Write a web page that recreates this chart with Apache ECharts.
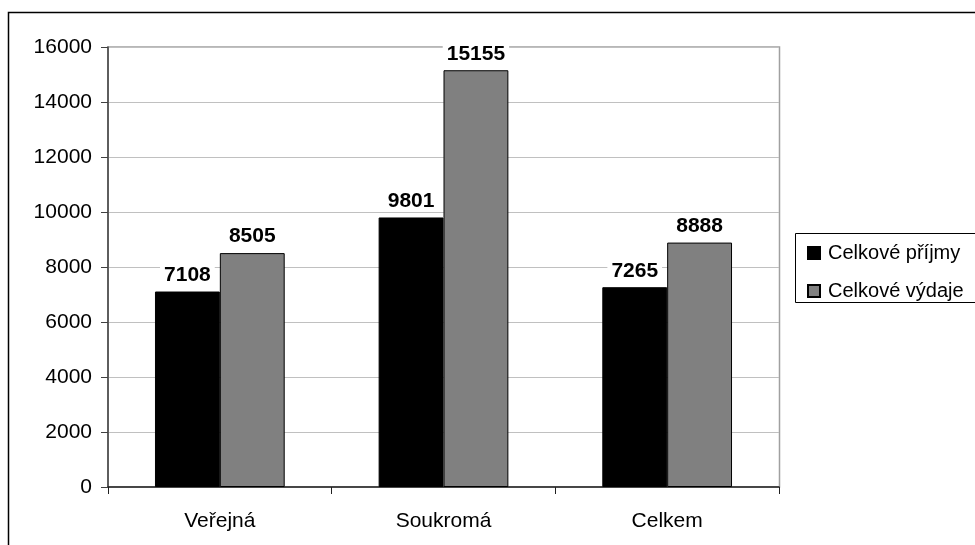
<!DOCTYPE html>
<html>
<head>
<meta charset="utf-8">
<script src="https://cdn.jsdelivr.net/npm/echarts@6/dist/echarts.min.js"></script>
<style>html,body{margin:0;padding:0;background:#fff;}#c{width:975px;height:545px;}</style>
</head>
<body>
<div id="c"></div>
<script>
var categories = ['Veřejná', 'Soukromá', 'Celkem'];
var seriesNames = ['Celkové příjmy', 'Celkové výdaje'];
var prijmy = [7108, 9801, 7265];
var vydaje = [8505, 15155, 8888];
var yTicks = [0, 2000, 4000, 6000, 8000, 10000, 12000, 14000, 16000];

var chart = echarts.init(document.getElementById('c'), null, {renderer: 'canvas'});
var font = 'Arial, "Liberation Sans", sans-serif';
var labelStyle = {
  show: true, position: 'top', distance: 6,
  fontFamily: font, fontSize: 21, fontWeight: 'bold', color: '#000',
  backgroundColor: '#fff', padding: [1, 4, 0, 4]
};
chart.setOption({
  animation: false,
  backgroundColor: '#fff',
  graphic: [
    {type: 'rect', shape: {x: 8.5, y: 12.5, width: 1000, height: 600},
     style: {fill: 'none', stroke: '#000', lineWidth: 1.5}, z: 100},
    {type: 'rect', shape: {x: 108, y: 47, width: 671.5, height: 440},
     style: {fill: 'none', stroke: '#a0a0a0', lineWidth: 1.5}, z: 0},
    {type: 'rect', shape: {x: 795.5, y: 233.5, width: 300, height: 69},
     style: {fill: '#fff', stroke: '#000', lineWidth: 1}, z: 1}
  ],
  grid: {left: 108, right: 196, top: 47, bottom: 58, containLabel: false},
  legend: {
    orient: 'vertical', left: 802, top: 238, itemGap: 18,
    itemWidth: 12, itemHeight: 12, icon: 'rect', z: 5,
    textStyle: {fontFamily: font, fontSize: 20, color: '#000', padding: [0, 0, 0, 3]},
    data: seriesNames
  },
  xAxis: {
    type: 'category', data: categories,
    axisLine: {show: true, lineStyle: {color: '#202020', width: 1.5}},
    axisTick: {show: true, length: 7, lineStyle: {color: '#202020'}},
    axisLabel: {fontFamily: font, fontSize: 21, color: '#000', margin: 24}
  },
  yAxis: {
    type: 'value', min: yTicks[0], max: yTicks[yTicks.length - 1], interval: 2000,
    axisLine: {show: true, lineStyle: {color: '#404040', width: 1.5}},
    axisTick: {show: true, length: 7, lineStyle: {color: '#404040'}},
    axisLabel: {fontFamily: font, fontSize: 21, color: '#000', margin: 16,
                formatter: function (v) { return String(v); }},
    splitLine: {lineStyle: {color: '#c0c0c0', width: 1}}
  },
  series: [
    {name: seriesNames[0], type: 'bar', data: prijmy, barGap: '0%', barCategoryGap: '42%',
     itemStyle: {color: '#000', borderColor: '#000', borderWidth: 1}, label: labelStyle},
    {name: seriesNames[1], type: 'bar', data: vydaje,
     itemStyle: {color: '#808080', borderColor: '#000', borderWidth: 1}, label: labelStyle}
  ]
});
</script>
</body>
</html>
